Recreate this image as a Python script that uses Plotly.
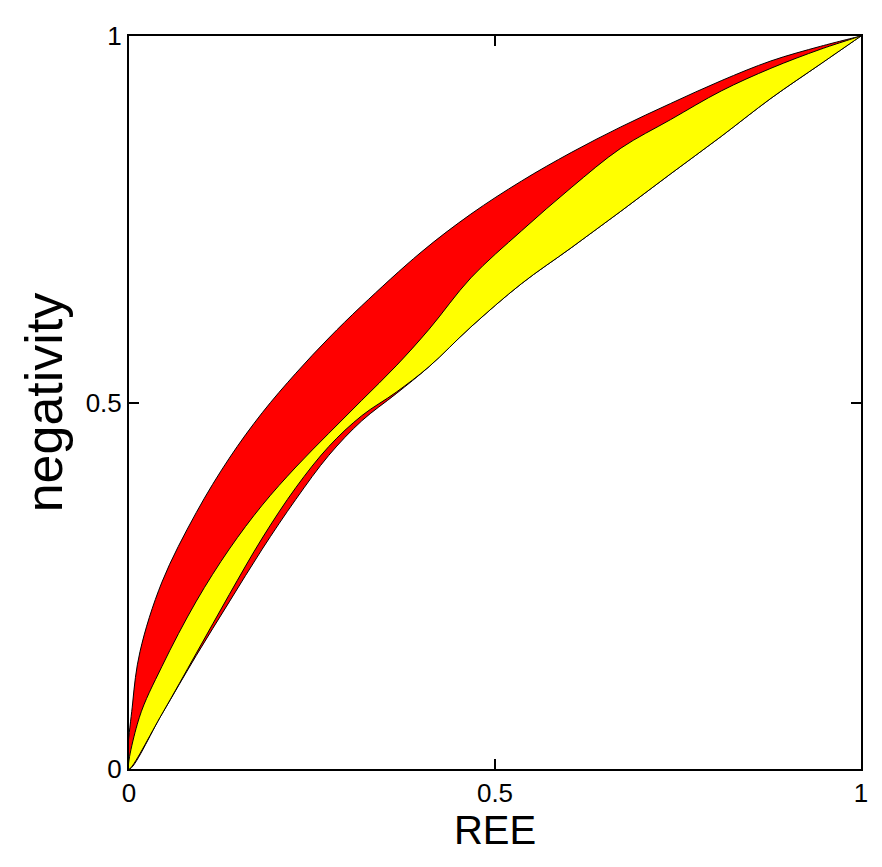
import plotly.graph_objects as go

# boundaries
x_top = [0, 0.005, 0.015, 0.045, 0.092, 0.137, 0.182, 0.228, 0.273, 0.318, 0.399, 0.467, 0.536, 0.604, 0.672, 0.740, 0.809, 0.877, 0.945, 1]
y_top = [0, 0.09, 0.16, 0.255, 0.350, 0.424, 0.486, 0.540, 0.588, 0.632, 0.705, 0.757, 0.802, 0.841, 0.876, 0.908, 0.939, 0.966, 0.986, 1]

x_mid = [0, 0.014, 0.045, 0.092, 0.137, 0.182, 0.228, 0.273, 0.318, 0.365, 0.410, 0.467, 0.536, 0.604, 0.672, 0.740, 0.809, 0.877, 0.945, 1]
y_mid = [0, 0.070, 0.140, 0.229, 0.300, 0.360, 0.412, 0.458, 0.503, 0.550, 0.600, 0.670, 0.734, 0.793, 0.847, 0.886, 0.925, 0.956, 0.982, 1]

x_low = [0, 0.045, 0.092, 0.137, 0.182, 0.228, 0.273, 0.318, 0.365, 0.410, 0.467, 0.536, 0.604, 0.672, 0.740, 0.809, 0.877, 0.945, 1]
y_low = [0, 0.075, 0.155, 0.228, 0.300, 0.368, 0.428, 0.475, 0.512, 0.549, 0.603, 0.662, 0.711, 0.761, 0.812, 0.863, 0.915, 0.962, 1]
y_yel_low = [0, 0.075, 0.158, 0.238, 0.315, 0.384, 0.440, 0.482, 0.514, 0.549, 0.603, 0.662, 0.711, 0.761, 0.812, 0.863, 0.915, 0.962, 1]

fig = go.Figure()
fig.add_trace(go.Scatter(
    x=x_top + x_low[::-1], y=y_top + y_low[::-1],
    fill="toself", fillcolor="#ff0000", mode="lines",
    line=dict(color="black", width=1, shape="spline", smoothing=1), showlegend=False))
fig.add_trace(go.Scatter(
    x=x_mid + x_low[::-1], y=y_mid + y_yel_low[::-1],
    fill="toself", fillcolor="#ffff00", mode="lines",
    line=dict(color="black", width=1, shape="spline", smoothing=1), showlegend=False))

ax = dict(range=[0, 1], tickvals=[0, 0.5, 1], ticktext=["0", "0.5", "1"],
          ticks="inside", ticklen=10, tickwidth=2, tickcolor="black",
          showline=True, linecolor="black", linewidth=2, mirror="ticks",
          showgrid=False, zeroline=False,
          tickfont=dict(family="Liberation Sans", size=26, color="black"))
fig.update_layout(
    width=882, height=867, plot_bgcolor="white", paper_bgcolor="white",
    margin=dict(l=121, r=29, t=28, b=106),
    xaxis=dict(ax, title=dict(text="REE", standoff=4,
               font=dict(family="Liberation Sans", size=40, color="black"))),
    yaxis=dict(ax, title=dict(text="negativity", standoff=6,
               font=dict(family="Liberation Sans", size=52, color="black"))),
)
fig.write_html("out.html")
